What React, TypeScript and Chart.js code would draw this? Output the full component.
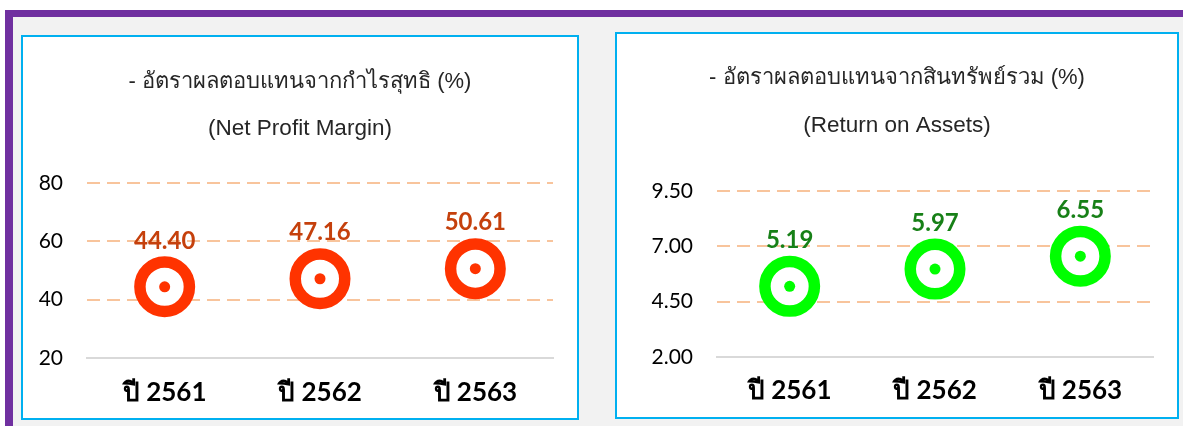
import React, { useEffect, useRef } from "react";
import { Chart, registerables } from "chart.js";

Chart.register(...registerables);

// ---------- data ----------
const categories = ["ปี 2561", "ปี 2562", "ปี 2563"];
const netProfitMargin = [44.4, 47.16, 50.61];
const returnOnAssets = [5.19, 5.97, 6.55];
const npmTicks = [20, 40, 60, 80];
const roaTicks = [2.0, 4.5, 7.0, 9.5];
const npmTitle = "- อัตราผลตอบแทนจากกำไรสุทธิ (%)";
const npmSubtitle = "(Net Profit Margin)";
const roaTitle = "- อัตราผลตอบแทนจากสินทรัพย์รวม (%)";
const roaSubtitle = "(Return on Assets)";

const NUM_FONT = "Lato, 'Noto Sans', sans-serif";
const TITLE_FONT = "'Liberation Sans', Arial, sans-serif";

const valueLabels = {
  id: "valueLabels",
  afterDatasetsDraw(chart: any, _args: any, opts: any) {
    const meta = chart.getDatasetMeta(0);
    const ds = chart.data.datasets[0];
    const ctx = chart.ctx;
    ctx.save();
    ctx.font = `bold ${opts.size || 22}px ${NUM_FONT}`;
    ctx.fillStyle = opts.color || "#000";
    ctx.textAlign = "center";
    ctx.textBaseline = "middle";
    meta.data.forEach((pt: any, i: number) => {
      const v = ds.data[i] as number;
      ctx.fillText(v.toFixed(2), pt.x, pt.y - (opts.offset || 47));
    });
    ctx.restore();
  },
};

// let the y-axis tick labels use the left padding strip (no clipping)
const widenYAxis = {
  id: "widenYAxis",
  afterLayout(chart: any) {
    const y = chart.scales.y;
    if (y) y.left = 0;
  },
};

type PanelProps = {
  title: string;
  subtitle: string;
  values: number[];
  ticks: number[];
  decimals: number;
  ring: string;
  labelColor: string;
  box: { left: number; top: number; width: number; height: number };
  yWidth: number;
  xHeight: number;
  titlePad: number;
  subPadTop: number;
  subPadBottom: number;
  xPad: number;
  sidePad: number;
};

function Panel(p: PanelProps) {
  const ref = useRef<HTMLCanvasElement | null>(null);
  const innerW = p.box.width - 4;
  const innerH = p.box.height - 4;

  useEffect(() => {
    if (!ref.current) return;
    const min = p.ticks[0];
    const max = p.ticks[p.ticks.length - 1];
    const step = p.ticks[1] - p.ticks[0];
    const chart = new Chart(ref.current, {
      type: "line",
      data: {
        labels: categories,
        datasets: [
          {
            data: p.values,
            order: 1,
            showLine: false,
            pointRadius: 24.75,
            pointHoverRadius: 24.75,
            pointHitRadius: 0,
            pointBorderWidth: 11.5,
            borderColor: p.ring,
            pointBorderColor: p.ring,
            pointBackgroundColor: "#ffffff",
          },
          {
            data: p.values,
            order: 0,
            showLine: false,
            pointRadius: 5.5,
            pointHoverRadius: 5.5,
            pointHitRadius: 0,
            pointBorderWidth: 0,
            pointBackgroundColor: p.ring,
            pointBorderColor: p.ring,
          },
        ],
      },
      options: {
        animation: false,
        responsive: false,
        events: [],
        layout: {
          autoPadding: false,
          padding: { top: 0, left: p.sidePad, right: p.sidePad, bottom: 0 },
        },
        plugins: {
          legend: { display: false },
          tooltip: { enabled: false },
          title: {
            display: true,
            text: p.title,
            color: "#262626",
            font: { family: TITLE_FONT, size: 22, weight: "normal" },
            padding: { top: p.titlePad, bottom: 0 },
          },
          subtitle: {
            display: true,
            text: p.subtitle,
            color: "#262626",
            font: { family: TITLE_FONT, size: 22.5, weight: "normal" },
            padding: { top: p.subPadTop, bottom: p.subPadBottom },
          },
          valueLabels: { color: p.labelColor, offset: 46, size: 24 },
        } as any,
        scales: {
          x: {
            offset: true,
            afterFit: (scale: any) => {
              scale.height = p.xHeight;
            },
            grid: { display: false, drawTicks: false },
            border: { display: true, color: "#d9d9d9", width: 2 },
            ticks: {
              color: "#000000",
              padding: p.xPad,
              font: { family: NUM_FONT, size: 26, weight: "bold" },
            },
          },
          y: {
            min,
            max,
            afterFit: (scale: any) => {
              scale.width = p.yWidth;
            },
            grid: {
              drawTicks: false,
              lineWidth: 2,
              color: (c: any) =>
                c.tick && Math.abs(c.tick.value - min) < 1e-9 ? "rgba(0,0,0,0)" : "#f8c49c",
            },
            border: { display: false, dash: [13, 7] },
            ticks: {
              stepSize: step,
              padding: 24,
              color: "#000000",
              font: { family: NUM_FONT, size: 21 },
              callback: (v: any) => Number(v).toFixed(p.decimals),
            },
          },
        },
      },
      plugins: [widenYAxis, valueLabels],
    } as any);
    return () => chart.destroy();
  }, []);

  return (
    <div
      style={{
        position: "absolute",
        left: p.box.left,
        top: p.box.top,
        width: p.box.width,
        height: p.box.height,
        boxSizing: "border-box",
        border: "2px solid #00b0f0",
        background: "#ffffff",
      }}
    >
      <canvas ref={ref} width={innerW} height={innerH} style={{ display: "block" }} />
    </div>
  );
}

export default function App() {
  return (
    <div
      style={{
        position: "absolute",
        left: 0,
        top: 0,
        width: 1183,
        height: 426,
        background: "#ffffff",
        overflow: "hidden",
      }}
    >
      <div style={{ position: "absolute", left: 5, top: 10, width: 1178, height: 416, background: "#7030a0" }} />
      <div style={{ position: "absolute", left: 13, top: 17, width: 1170, height: 409, background: "#f2f2f2" }} />
      <Panel
        title={npmTitle}
        subtitle={npmSubtitle}
        values={netProfitMargin}
        ticks={npmTicks}
        decimals={0}
        ring="#ff3300"
        labelColor="#c5400c"
        box={{ left: 21, top: 35, width: 558, height: 385 }}
        yWidth={40}
        xHeight={60}
        titlePad={32}
        subPadTop={20}
        subPadBottom={40.5}
        xPad={19}
        sidePad={24}
      />
      <Panel
        title={roaTitle}
        subtitle={roaSubtitle}
        values={returnOnAssets}
        ticks={roaTicks}
        decimals={2}
        ring="#00ff00"
        labelColor="#178017"
        box={{ left: 615, top: 32, width: 564, height: 387 }}
        yWidth={76}
        xHeight={60}
        titlePad={31}
        subPadTop={21}
        subPadBottom={51.5}
        xPad={18}
        sidePad={24}
      />
    </div>
  );
}
